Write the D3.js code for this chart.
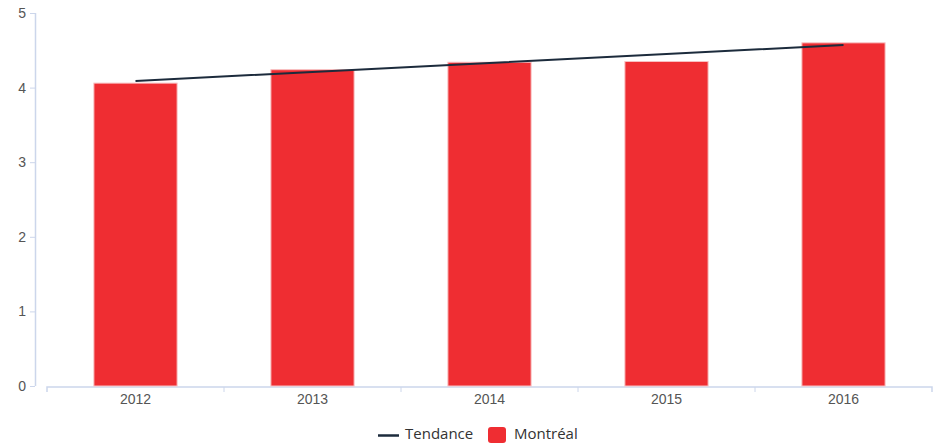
<!DOCTYPE html>
<html>
<head>
<meta charset="utf-8">
<script src="https://cdn.jsdelivr.net/npm/d3@7"></script>
<style>
  body { margin: 0; background: #fff; }
  svg { font-family: "Open Sans", "DejaVu Sans", sans-serif; }
</style>
</head>
<body>
<div id="chart"></div>
<script>
// Chart data
const years = ["2012", "2013", "2014", "2015", "2016"];
const montreal = [4.06, 4.24, 4.34, 4.35, 4.60];
const tendance = [4.09, 4.21, 4.33, 4.45, 4.57];
const yTicks = [0, 1, 2, 3, 4, 5];

const width = 941, height = 444;
const margin = {top: 13, right: 9, bottom: 58, left: 47};

const svg = d3.select('#chart').append('svg')
    .attr('width', width)
    .attr('height', height);

const x = d3.scaleBand()
    .domain(years)
    .range([margin.left, width - margin.right])
    .paddingInner(0.53)
    .paddingOuter(0.265);

const y = d3.scaleLinear()
    .domain([0, 5])
    .range([height - margin.bottom, margin.top]);

// y axis (offset to the left of the plot)
const yAxis = svg.append('g')
    .attr('transform', 'translate(35,0)')
    .call(d3.axisLeft(y).tickValues(yTicks).tickSize(5).tickPadding(4).tickFormat(d3.format('d')));
yAxis.select('.domain').attr('stroke', '#ccd6eb').attr('stroke-width', 1.5)
    .attr('d', 'M0.5,' + y(5) + 'V' + y(0));
yAxis.selectAll('.tick line').attr('stroke', '#ccd6eb');
yAxis.selectAll('.tick text').attr('fill', '#555').style('font-size', '14px');

// x axis
const xAxis = svg.append('g')
    .attr('transform', 'translate(0,' + (y(0) + 1) + ')')
    .call(d3.axisBottom(x).tickSize(0).tickPadding(7));
xAxis.select('.domain').attr('stroke', '#ccd6eb').attr('stroke-width', 1.5)
    .attr('d', 'M' + margin.left + ',5V0H' + (width - margin.right) + 'V5');
xAxis.selectAll('.tick text').attr('fill', '#555').style('font-size', '14px');

// band boundary ticks
const step = x.step();
svg.append('g').selectAll('line')
    .data(years.slice(1))
    .enter()
    .append('line')
    .attr('x1', d => x(d) - (step - x.bandwidth()) / 2)
    .attr('x2', d => x(d) - (step - x.bandwidth()) / 2)
    .attr('y1', y(0) + 1)
    .attr('y2', y(0) + 6)
    .attr('stroke', '#ccd6eb');

// bars
svg.append('g').selectAll('rect')
    .data(montreal)
    .enter()
    .append('rect')
    .attr('x', (d, i) => x(years[i]))
    .attr('y', d => y(d))
    .attr('width', x.bandwidth())
    .attr('height', d => y(0) - y(d))
    .attr('fill', '#ef2d32')
    .attr('stroke', '#f8c0c2')
    .attr('stroke-width', 1);

// trend line
const line = d3.line()
    .x((d, i) => x(years[i]) + x.bandwidth() / 2)
    .y(d => y(d));
svg.append('path')
    .datum(tendance)
    .attr('d', line)
    .attr('fill', 'none')
    .attr('stroke', '#1c2b3c')
    .attr('stroke-width', 2);

// legend
const legend = svg.append('g').attr('transform', 'translate(0,434)');
legend.append('line')
    .attr('x1', 378).attr('x2', 399)
    .attr('y1', 1.5).attr('y2', 1.5)
    .attr('stroke', '#1c2b3c').attr('stroke-width', 2.5);
legend.append('text')
    .attr('x', 405).attr('y', 5)
    .attr('fill', '#333')
    .style('font-size', '15px')
    .text('Tendance');
legend.append('rect')
    .attr('x', 488).attr('y', -7)
    .attr('width', 18).attr('height', 16)
    .attr('rx', 3)
    .attr('fill', '#ef2d32');
legend.append('text')
    .attr('x', 514).attr('y', 5)
    .attr('fill', '#333')
    .style('font-size', '15px')
    .text('Montréal');
</script>
</body>
</html>
